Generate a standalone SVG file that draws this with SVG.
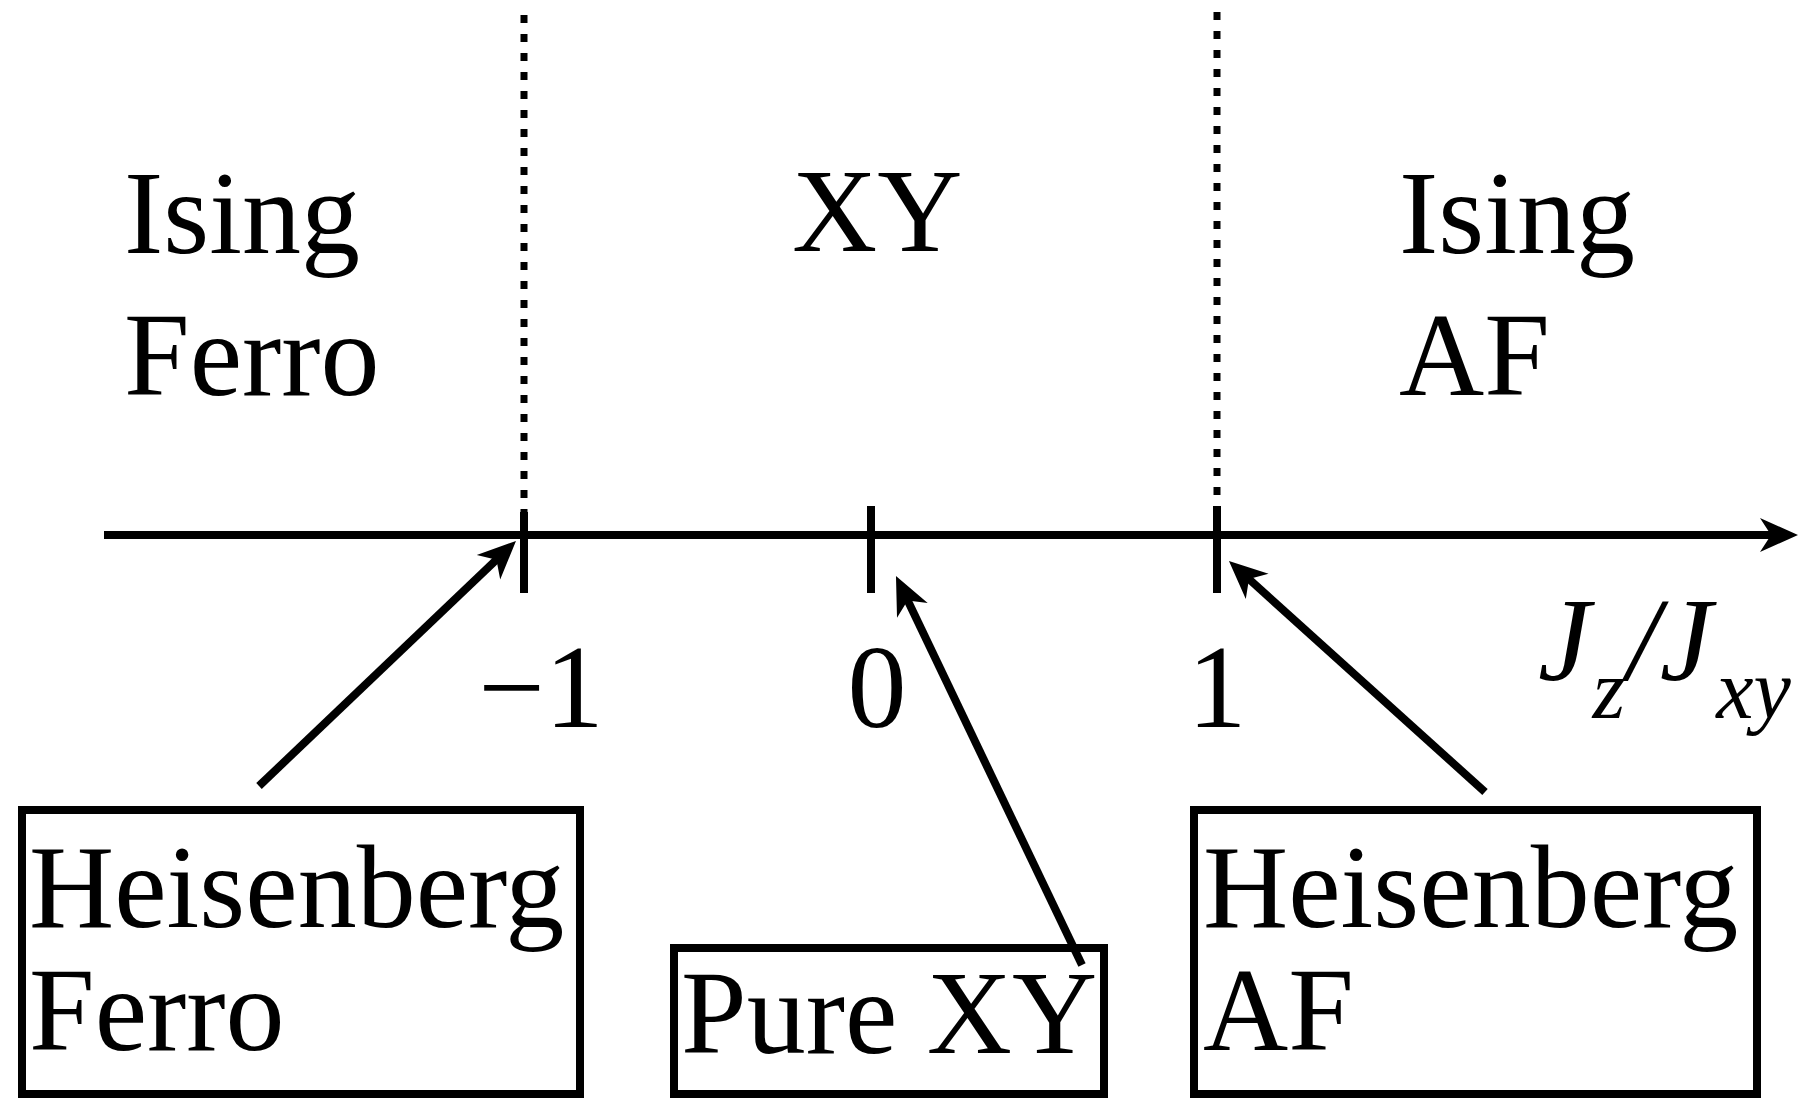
<svg xmlns="http://www.w3.org/2000/svg" width="1805" height="1098" viewBox="0 0 1805 1098">
<style>
text{font-family:"Liberation Serif","Times New Roman",serif;font-size:118px;fill:#000}
.it{font-style:italic}
.box{fill:#fff;stroke:#000;stroke-width:8}
.ln{stroke:#000;stroke-width:8;fill:none}
.dot{stroke:#000;stroke-width:7;stroke-dasharray:8 11;fill:none}
</style>
<defs>
<marker id="ah" markerUnits="userSpaceOnUse" markerWidth="60" markerHeight="44" viewBox="-22 -22 46 44" refX="0" refY="0" orient="auto">
<path d="M20,0 L-18,-17 L-7,0 L-18,17 Z" fill="#000"/>
</marker>
</defs>
<g id="regions">
<text x="124" y="253">Ising</text>
<text x="124" y="395">Ferro</text>
<text x="792" y="251">XY</text>
<text x="1399" y="253">Ising</text>
<text x="1399" y="395">AF</text>
</g>
<g id="axis">
<line class="dot" x1="524" y1="15" x2="524" y2="535"/>
<line class="dot" x1="1217" y1="12" x2="1217" y2="535"/>
<line class="ln" x1="104" y1="535" x2="1778" y2="535" marker-end="url(#ah)"/>
<line class="ln" x1="524" y1="512" x2="524" y2="593"/>
<line class="ln" x1="871" y1="506" x2="871" y2="593"/>
<line class="ln" x1="1217" y1="506" x2="1217" y2="593"/>
<text x="541" y="727" text-anchor="middle">−1</text>
<text x="877" y="727" text-anchor="middle">0</text>
<text x="1217" y="727" text-anchor="middle">1</text>
<text x="1538" y="680" class="it">J<tspan font-size="84" dy="38" dx="2">z</tspan><tspan dy="-38" dx="2">/J</tspan><tspan font-size="84" dy="38" dx="4">xy</tspan></text>
</g>
<g id="node-heis-ferro">
<rect class="box" x="22" y="810" width="558" height="284"/>
<text x="29" y="927">Heisenberg</text>
<text x="29" y="1050">Ferro</text>
</g>
<g id="node-pure-xy">
<rect class="box" x="674" y="948" width="430" height="146"/>
<text x="681" y="1053">Pure XY</text>
</g>
<g id="node-heis-af">
<rect class="box" x="1194" y="810" width="563" height="284"/>
<text x="1203" y="927">Heisenberg</text>
<text x="1203" y="1050">AF</text>
</g>
<g id="connectors">
<line class="ln" x1="259" y1="786" x2="501.5" y2="554.8" marker-end="url(#ah)"/>
<line class="ln" x1="1082" y1="965" x2="904.6" y2="594.1" marker-end="url(#ah)"/>
<line class="ln" x1="1485" y1="792" x2="1243.8" y2="574.4" marker-end="url(#ah)"/>
</g>
</svg>
